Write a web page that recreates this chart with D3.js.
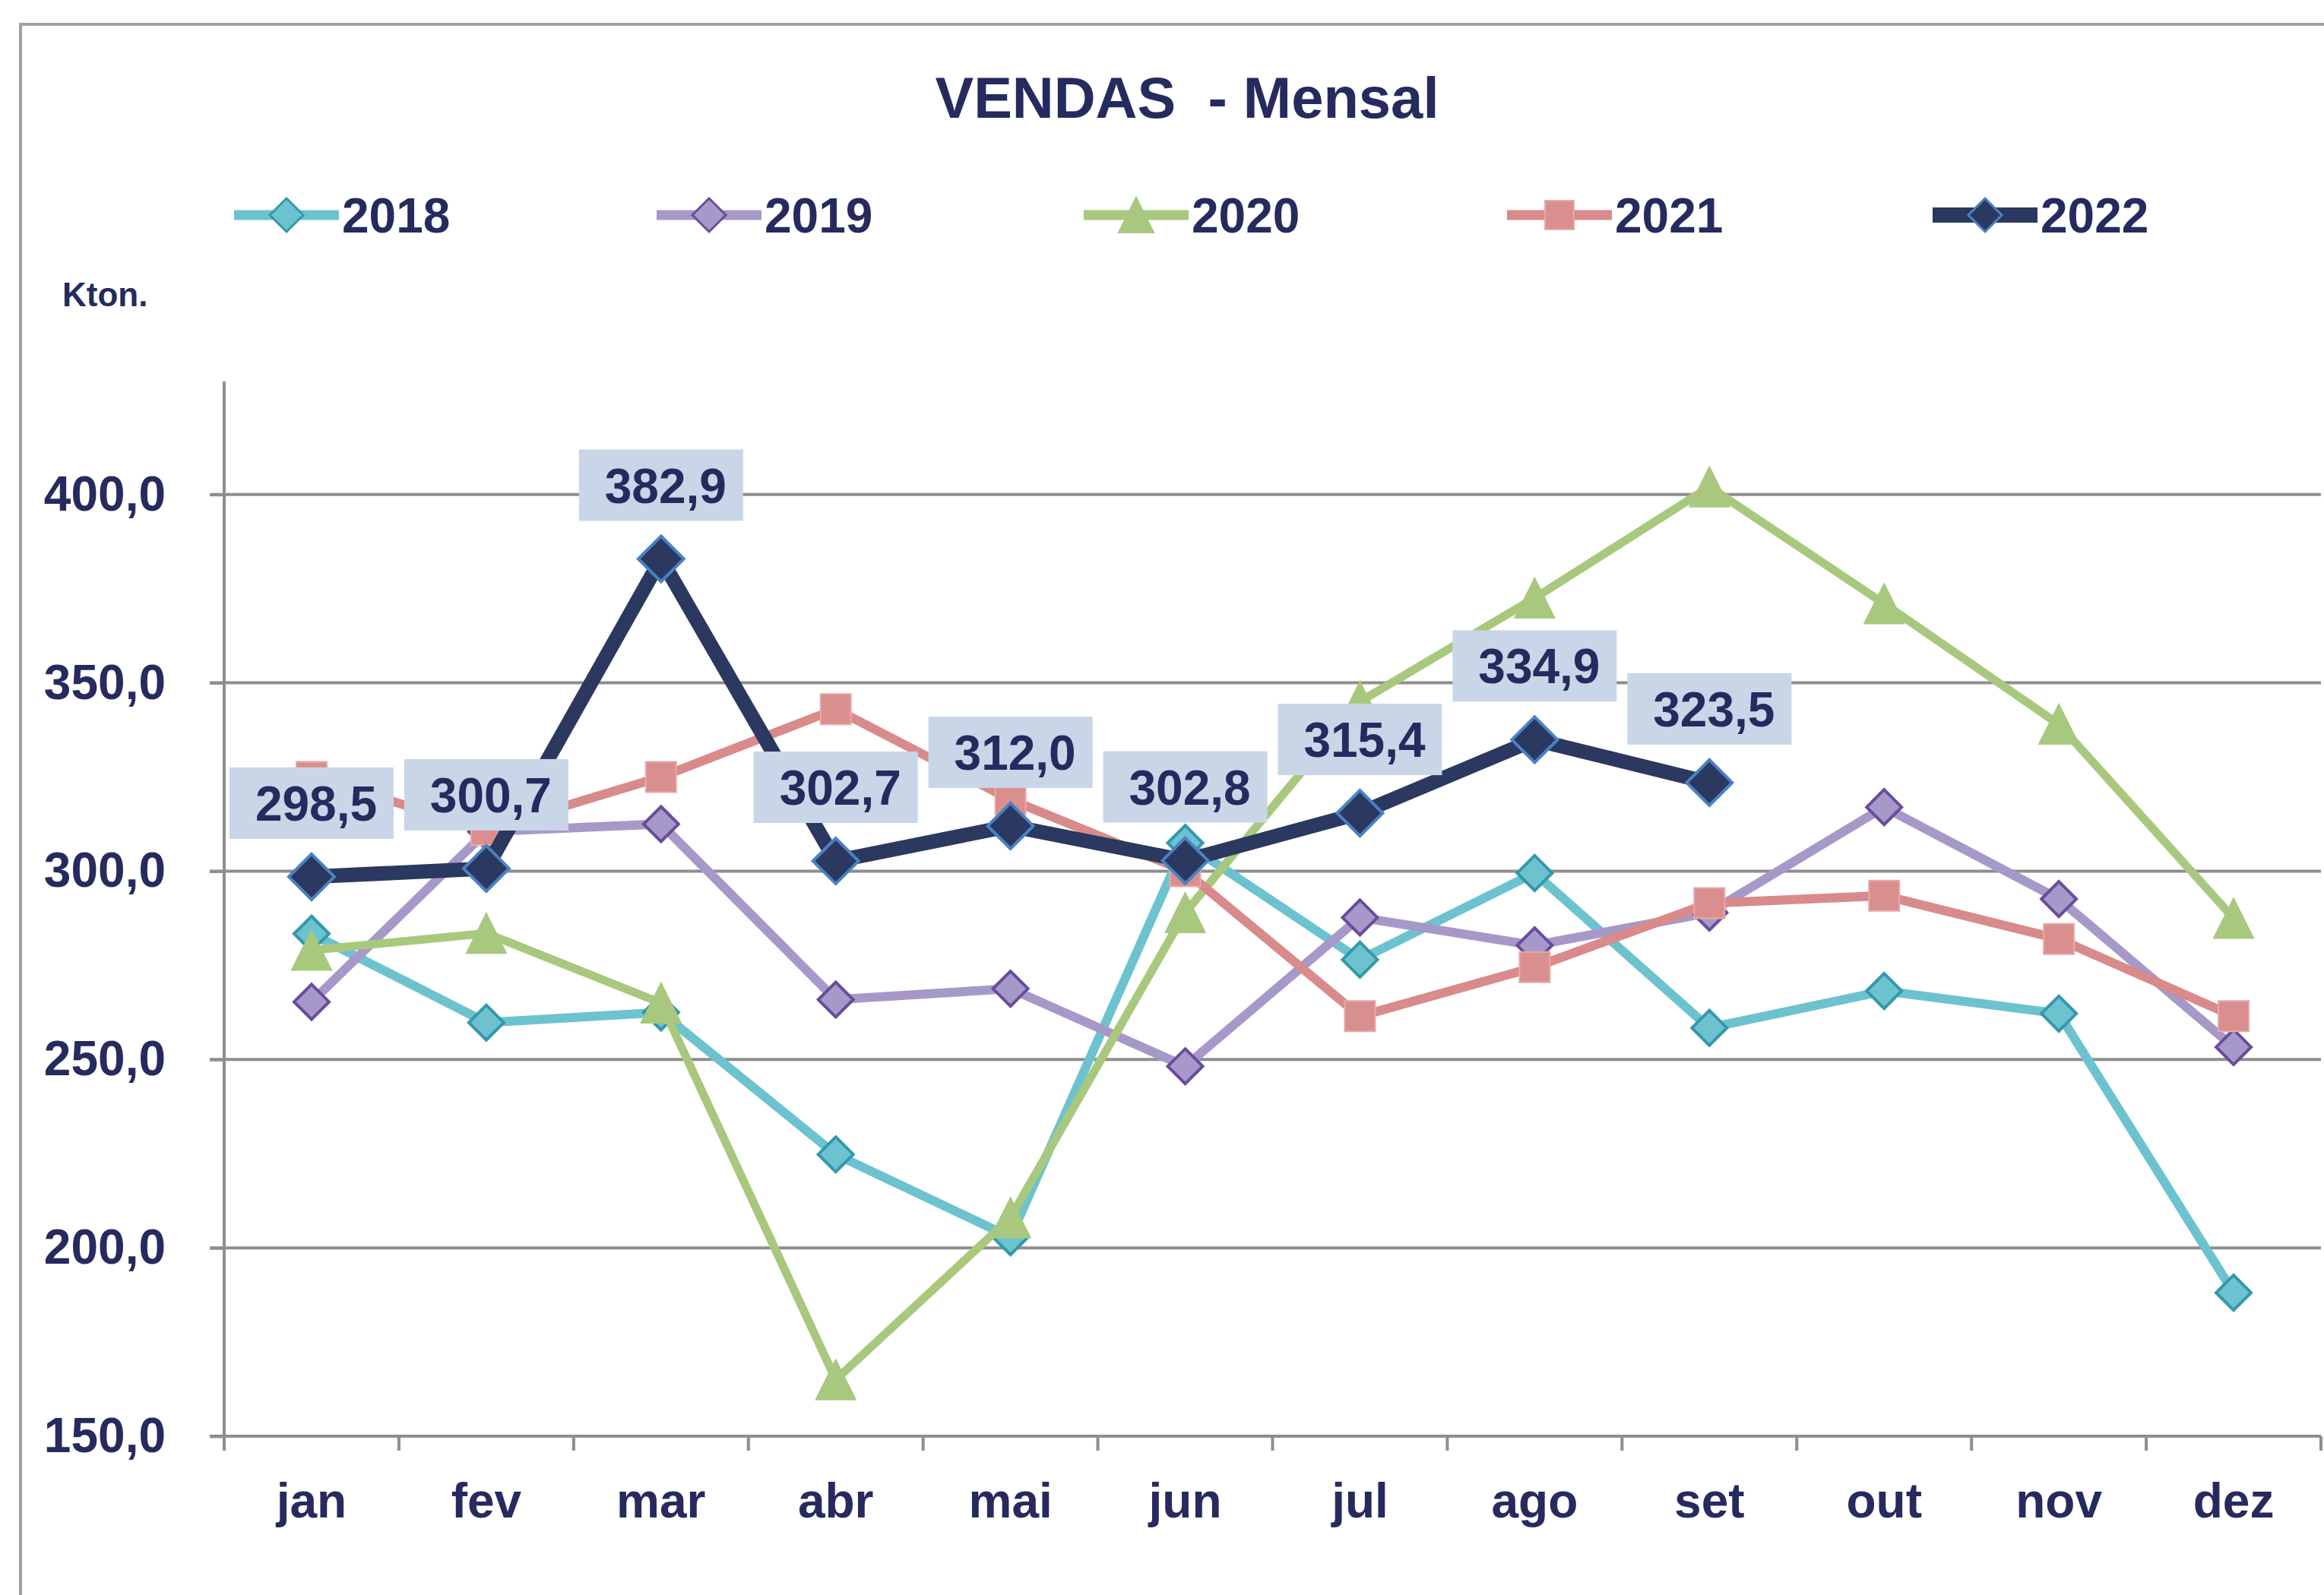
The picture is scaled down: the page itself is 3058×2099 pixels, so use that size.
<!DOCTYPE html>
<html>
<head>
<meta charset="utf-8">
<script src="https://cdn.jsdelivr.net/npm/d3@7/dist/d3.min.js"></script>
<style>
  html, body { margin: 0; padding: 0; background: #ffffff; }
  svg { display: block; }
  text { font-family: Arial, "Liberation Sans", Helvetica, sans-serif; font-weight: bold; }
</style>
</head>
<body>
<svg id="chart" width="3058" height="2099"></svg>
<script>
const months = ["jan","fev","mar","abr","mai","jun","jul","ago","set","out","nov","dez"];
const yTicks = [150, 200, 250, 300, 350, 400];

const v2018 = [283.4, 259.8, 262.5, 224.8, 202.8, 307.5, 276.5, 299.5, 258.4, 268.2, 262.2, 188.1];
const v2019 = [265.3, 310.5, 312.5, 265.9, 268.8, 248.2, 287.7, 280.3, 289.0, 317.0, 292.6, 253.3];
const v2020 = [279.0, 283.5, 265.0, 165.0, 208.0, 289.0, 345.0, 372.5, 402.0, 371.0, 339.0, 287.5];
const v2021 = [325.0, 311.0, 325.0, 343.0, 319.0, 300.0, 261.5, 274.5, 291.5, 293.5, 282.0, 261.5];
const v2022 = [298.5, 300.7, 382.9, 302.7, 312.0, 302.8, 315.4, 334.9, 323.5];

const series = [
  { name: "2018", values: v2018, line: "#6cc3cf", fill: "#6cc3cf", stroke: "#3399aa", shape: "diamond", size: 46, lw: 12, legSize: 44 },
  { name: "2019", values: v2019, line: "#a699c9", fill: "#a699c9", stroke: "#6a4c9c", shape: "diamond", size: 46, lw: 12, legSize: 44 },
  { name: "2020", values: v2020, line: "#a8c87e", fill: "#a8c87e", stroke: "#a8c87e", shape: "triangle", size: 52, lw: 11, legSize: 46 },
  { name: "2021", values: v2021, line: "#d98a8a", fill: "#da8f8f", stroke: "#e7a9a9", shape: "square", size: 40, lw: 12, legSize: 38 },
  { name: "2022", values: v2022, line: "#2b3860", fill: "#2b3860", stroke: "#4a82c2", shape: "diamond", size: 60, lw: 19, legSize: 44 }
];

const textColor = "#252b5e";
const svg = d3.select("#chart");

// frame
svg.append("rect").attr("x", 27).attr("y", 32).attr("width", 3100).attr("height", 2150)
  .attr("fill", "#ffffff").attr("stroke", "#a0a0a0").attr("stroke-width", 4);

const x = d3.scaleBand().domain(months).range([295, 3054]).padding(0);
const y = d3.scaleLinear().domain([150, 430]).range([1890, 502]);

// gridlines
svg.append("g").selectAll("line").data(yTicks.filter(t => t > 150)).join("line")
  .attr("x1", 276).attr("x2", 3054)
  .attr("y1", d => y(d)).attr("y2", d => y(d))
  .attr("stroke", "#8e8e8e").attr("stroke-width", 4);

// y axis
const yAxis = d3.axisLeft(y).tickValues(yTicks).tickSize(19).tickPadding(58)
  .tickFormat(d => d3.format(".1f")(d).replace(".", ","));
const gy = svg.append("g").attr("transform", "translate(295,0)").call(yAxis);
gy.select(".domain").attr("stroke", "#8e8e8e").attr("stroke-width", 4)
  .attr("d", `M0,${y(430)}V${y(150)}`);
gy.selectAll(".tick line").attr("stroke", "#8e8e8e").attr("stroke-width", 4);
gy.selectAll(".tick text").attr("fill", textColor).style("font-size", "64px")
  .style("font-family", "Arial, 'Liberation Sans', sans-serif").style("font-weight", "bold");

// x axis
const xAxis = d3.axisBottom(x).tickSize(0).tickPadding(62);
const gx = svg.append("g").attr("transform", `translate(0,${y(150)})`).call(xAxis);
gx.select(".domain").attr("stroke", "#8e8e8e").attr("stroke-width", 4)
  .attr("d", `M276,0H3054`);
gx.selectAll(".tick text").attr("fill", textColor).style("font-size", "64px")
  .style("font-family", "Arial, 'Liberation Sans', sans-serif").style("font-weight", "bold");
// category boundary ticks
const bounds = months.map(m => x(m)).concat([x(months[months.length - 1]) + x.bandwidth()]);
svg.append("g").selectAll("line").data(bounds).join("line")
  .attr("x1", d => d).attr("x2", d => d)
  .attr("y1", y(150)).attr("y2", y(150) + 19)
  .attr("stroke", "#8e8e8e").attr("stroke-width", 4);

function markerPath(shape, s) {
  const r = s / 2;
  if (shape === "diamond") return `M0,${-r}L${r},0L0,${r}L${-r},0Z`;
  if (shape === "square") return `M${-r},${-r}H${r}V${r}H${-r}Z`;
  if (shape === "triangle") return `M0,${-r}L${r},${r}L${-r},${r}Z`;
}

const cx = i => x(months[i]) + x.bandwidth() / 2;
const line = d3.line().x((d, i) => cx(i)).y(d => y(d));

series.forEach(s => {
  const g = svg.append("g");
  g.append("path").datum(s.values).attr("d", line)
    .attr("fill", "none").attr("stroke", s.line).attr("stroke-width", s.lw)
    .attr("stroke-linejoin", "miter").attr("stroke-miterlimit", 3);
  g.selectAll("path.m").data(s.values).join("path").attr("class", "m")
    .attr("transform", (d, i) => `translate(${cx(i)},${y(d)})`)
    .attr("d", markerPath(s.shape, s.size))
    .attr("fill", s.fill).attr("stroke", s.stroke)
    .attr("stroke-width", s.shape === "diamond" ? 4 : 2);
});

// data labels for 2022
const labels = svg.append("g");
v2022.forEach((v, i) => {
  const lx = cx(i), ly = y(v) - 97;
  labels.append("rect").attr("x", lx - 108).attr("y", ly - 47).attr("width", 216).attr("height", 94)
    .attr("fill", "#c8d6e7");
  labels.append("text").attr("x", lx + 6).attr("y", ly).attr("dy", "0.36em")
    .attr("text-anchor", "middle").attr("fill", textColor).style("font-size", "64px")
    .text(d3.format(".1f")(v).replace(".", ","));
});

// title
svg.append("text").attr("x", 1562).attr("y", 155).attr("text-anchor", "middle")
  .attr("fill", textColor).style("font-size", "76px").text("VENDAS  - Mensal")
  .attr("xml:space", "preserve").style("white-space", "pre");

// unit label
svg.append("text").attr("x", 82).attr("y", 403).attr("fill", textColor)
  .style("font-size", "44px").text("Kton.");

// legend
const legX = [308, 864, 1426, 1983, 2543];
const legY = 283;
series.forEach((s, i) => {
  const g = svg.append("g").attr("transform", `translate(${legX[i]},${legY})`);
  g.append("line").attr("x1", 0).attr("x2", 138).attr("y1", 0).attr("y2", 0)
    .attr("stroke", s.line).attr("stroke-width", s.name === "2022" ? 20 : 13);
  g.append("path").attr("transform", "translate(69,0)")
    .attr("d", markerPath(s.shape, s.legSize))
    .attr("fill", s.fill).attr("stroke", s.stroke)
    .attr("stroke-width", s.shape === "diamond" ? 3 : 2);
  g.append("text").attr("x", 142).attr("y", 0).attr("dy", "0.36em")
    .attr("fill", textColor).style("font-size", "64px").text(s.name);
});
</script>
</body>
</html>
